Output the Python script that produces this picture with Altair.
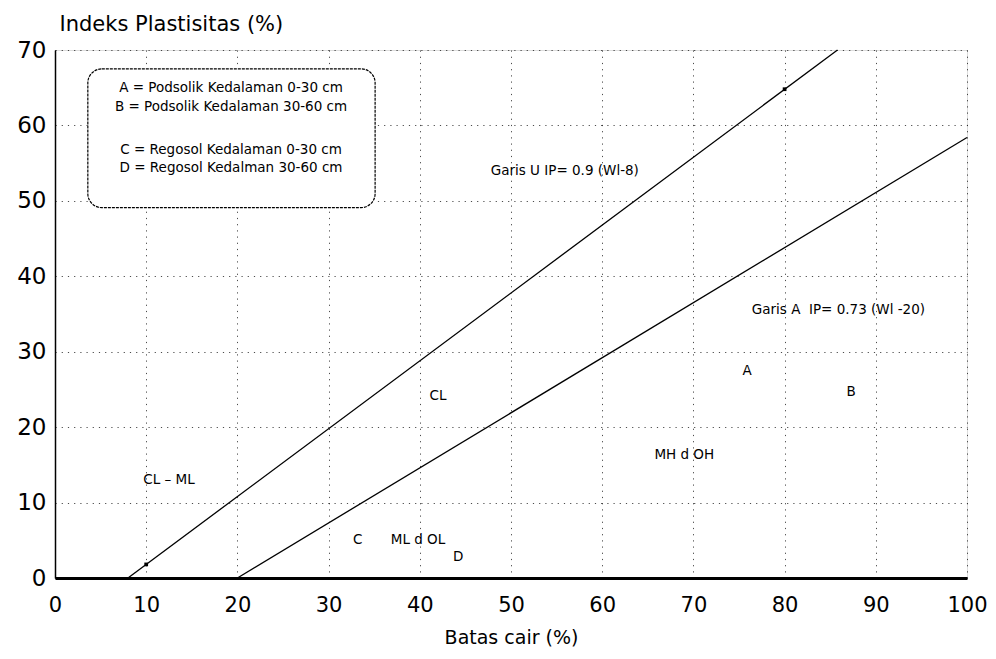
import altair as alt
import pandas as pd

# Garis U and Garis A (end points)
u_x = [8, 85.8]
u_y = [0, 70]
a_x = [20, 100]
a_y = [0, 58.4]

# small square markers on the U line
mark_x = [10, 80]
mark_y = [1.8, 64.8]

# in-plot labels
label_text = ["Garis U IP= 0.9 (Wl-8)", "Garis A\u00a0 IP= 0.73 (Wl -20)", "CL", "CL \u2013 ML",
              "C", "ML d OL", "D", "MH d OH", "A", "B"]
label_x = [55.9, 85.9, 42.0, 12.5, 33.2, 39.8, 44.2, 69.0, 75.9, 87.3]
label_y = [53.9, 35.5, 24.1, 13.0, 5.0, 5.0, 2.8, 16.3, 27.4, 24.6]

# legend box
legend_lines = ["A = Podsolik Kedalaman 0-30 cm", "B = Podsolik Kedalaman 30-60 cm",
                "C = Regosol Kedalaman 0-30 cm", "D = Regosol Kedalman 30-60 cm"]
legend_x = [19.3, 19.3, 19.3, 19.3]
legend_y = [64.9, 62.4, 56.8, 54.4]
box_x = [3.6]
box_x2 = [35.1]
box_y = [67.5]
box_y2 = [49.1]

x_ticks = list(range(0, 101, 10))
y_ticks = list(range(0, 71, 10))

FONT = "DejaVu Sans"

lines_df = pd.DataFrame({
    "x": u_x + a_x,
    "y": u_y + a_y,
    "s": ["U"] * len(u_x) + ["A"] * len(a_x),
})
marks_df = pd.DataFrame({"x": mark_x, "y": mark_y})
labels_df = pd.DataFrame({"x": label_x, "y": label_y, "t": label_text})
legend_df = pd.DataFrame({"x": legend_x, "y": legend_y, "t": legend_lines})
box_df = pd.DataFrame({"x": box_x, "x2": box_x2, "y": box_y, "y2": box_y2})

xscale = alt.Scale(domain=[0, 100], nice=False, zero=False)
yscale = alt.Scale(domain=[0, 70], nice=False, zero=False)

grid_style = dict(grid=True, gridColor="black", gridDash=[1.2, 5], gridOpacity=0.7, gridWidth=1)

lines = alt.Chart(lines_df).mark_line(color="black", strokeWidth=1.3).encode(
    x=alt.X("x:Q", scale=xscale, axis=alt.Axis(
        values=x_ticks, title="Batas cair (%)", ticks=False, labelFlush=False,
        labelFontSize=21, labelPadding=16, labelColor="black", labelFont=FONT,
        titleFontSize=19, titleFontWeight="normal", titleFont=FONT, titleColor="black",
        titlePadding=13, domainColor="black", domainWidth=3,
        **grid_style,
    )),
    y=alt.Y("y:Q", scale=yscale, axis=alt.Axis(
        values=y_ticks, title="Indeks Plastisitas (%)", ticks=False, labelFlush=False,
        labelFontSize=23, labelPadding=9, labelColor="black", labelFont=FONT,
        titleFontSize=21, titleFontWeight="normal", titleFont=FONT, titleColor="black",
        titleAngle=0, titleAlign="left", titleBaseline="alphabetic", titleX=4, titleY=-20,
        domainColor="black", domainWidth=1.5,
        **grid_style,
    )),
    detail="s:N",
)

box = alt.Chart(box_df).mark_rect(
    cornerRadius=14, fill="white", stroke="black", strokeDash=[3, 1], strokeWidth=1.2
).encode(x="x:Q", x2="x2:Q", y="y:Q", y2="y2:Q")

legend_text = alt.Chart(legend_df).mark_text(
    font=FONT, fontSize=13.5, color="black", align="center", baseline="middle"
).encode(x="x:Q", y="y:Q", text="t:N")

labels = alt.Chart(labels_df).mark_text(
    font=FONT, fontSize=13.5, color="black", align="center", baseline="middle"
).encode(x="x:Q", y="y:Q", text="t:N")

markers = alt.Chart(marks_df).mark_point(
    shape="square", filled=True, color="black", size=14, opacity=1
).encode(x="x:Q", y="y:Q")

chart = alt.layer(lines, box, legend_text, labels, markers).properties(
    width=912, height=528,
    padding={"left": 8, "top": 5, "right": 0, "bottom": 5},
).configure_view(
    stroke="black", strokeWidth=1.5
).configure(background="white")

chart.save("out.html", embed_options={"renderer": "svg", "actions": False})
